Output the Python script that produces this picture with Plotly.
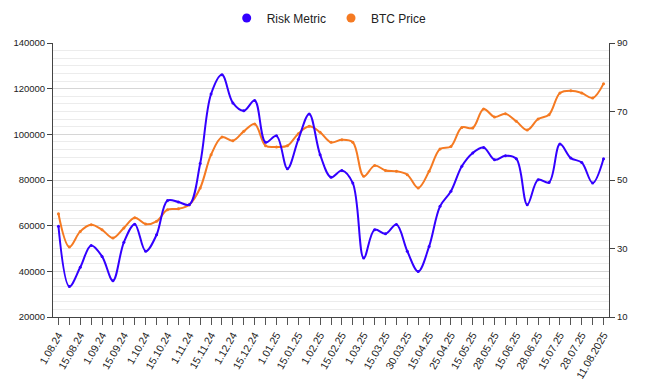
import plotly.graph_objects as go

tick_labels = ["1.08.24", "15.08.24", "1.09.24", "15.09.24", "1.10.24", "15.10.24",
               "1.11.24", "15.11.24", "1.12.24", "15.12.24", "1.01.25", "15.01.25",
               "1.02.25", "15.02.25", "1.03.25", "15.03.25", "30.03.25", "15.04.25",
               "25.04.25", "15.05.25", "28.05.25", "15.06.25", "28.06.25", "15.07.25",
               "28.07.25", "11.08.2025"]

btc_price = [65200, 50700, 57500, 60400, 58200, 54600, 59000, 63500, 60700, 61900,
             67000, 67400, 69200, 76500, 91100, 98800, 97200, 101300, 104500, 95000,
             94500, 95000, 100300, 103500, 100900, 96500, 97600, 96500, 81600, 86300,
             84200, 83800, 82300, 76500, 83800, 93600, 94700, 103000, 102800, 111100,
             107600, 109000, 105700, 101900, 106700, 108600, 118100, 119100, 118100, 115900,
             122200]

risk_metric = [36.5, 18.9, 24.5, 30.9, 27.7, 20.6, 31.8, 37.1, 29.2, 34.0,
               44.0, 43.6, 42.8, 54.8, 75.1, 80.7, 72.5, 70.2, 73.2, 61.0,
               62.9, 53.3, 61.8, 69.3, 57.4, 50.8, 52.8, 49.1, 27.2, 35.5,
               34.3, 37.0, 29.2, 23.3, 30.6, 42.3, 46.7, 54.0, 57.9, 59.5,
               55.9, 57.1, 56.2, 42.8, 50.1, 49.3, 60.5, 56.4, 55.1, 49.1,
               56.2]

BLUE = "#3300FF"
ORANGE = "#F57A22"
FONT = "Liberation Sans, Arial, sans-serif"

idx = list(range(len(btc_price)))
tickvals = idx
ticktext = [tick_labels[i // 2] if i % 2 == 0 else "" for i in idx]

fig = go.Figure()
fig.add_trace(go.Scatter(
    x=idx, y=risk_metric, name="Risk Metric", yaxis="y2",
    mode="lines+markers", line=dict(color=BLUE, width=2, shape="spline"),
    marker=dict(size=3, color=BLUE), showlegend=False))
fig.add_trace(go.Scatter(
    x=idx, y=btc_price, name="BTC Price", yaxis="y",
    mode="lines+markers", line=dict(color=ORANGE, width=2, shape="spline"),
    marker=dict(size=3, color=ORANGE), showlegend=False))
# legend entries (circle only)
fig.add_trace(go.Scatter(x=[None], y=[None], name="Risk Metric", mode="markers",
                         marker=dict(size=9, color=BLUE)))
fig.add_trace(go.Scatter(x=[None], y=[None], name="BTC Price", mode="markers",
                         marker=dict(size=9, color=ORANGE)))

fig.update_layout(
    width=648, height=392,
    margin=dict(l=53, r=39, t=43, b=75, autoexpand=False),
    paper_bgcolor="white", plot_bgcolor="white",
    font=dict(family=FONT, size=10, color="#222"),
    showlegend=True,
    legend=dict(orientation="h", xref="container", yref="container",
                x=0.508, xanchor="center", y=1 - 18 / 392, yanchor="middle",
                font=dict(size=12, color="#222"), itemwidth=30,
                tracegroupgap=0, bgcolor="rgba(0,0,0,0)"),
    xaxis=dict(range=[-0.5, len(idx) - 0.5], tickmode="array", tickvals=tickvals,
               ticktext=ticktext, tickangle=-60, ticks="outside", ticklen=7,
               tickcolor="#555", showline=True, linecolor="#444", linewidth=1,
               showgrid=False, zeroline=False, tickfont=dict(size=10.5),
               automargin=False),
    yaxis=dict(range=[20000, 140000], tickmode="linear", tick0=20000, dtick=20000,
               tickformat="d",
               ticks="outside", ticklen=5, tickcolor="#444", showline=True,
               linecolor="#444", linewidth=1, showgrid=True, gridcolor="#d6d6d6",
               zeroline=False, tickfont=dict(size=9.5), automargin=False,
               minor=dict(dtick=20000 / 6, showgrid=True, gridcolor="#ececec")),
    yaxis2=dict(range=[10, 90], tickmode="linear", tick0=10, dtick=20,
                overlaying="y", side="right", ticks="outside", ticklen=5,
                tickcolor="#444", showline=True, linecolor="#444", linewidth=1,
                showgrid=False, zeroline=False, tickfont=dict(size=9.5),
                automargin=False),
)

fig.write_html("out.html", config={"displayModeBar": False},
               post_script="document.body.style.margin='0';")
